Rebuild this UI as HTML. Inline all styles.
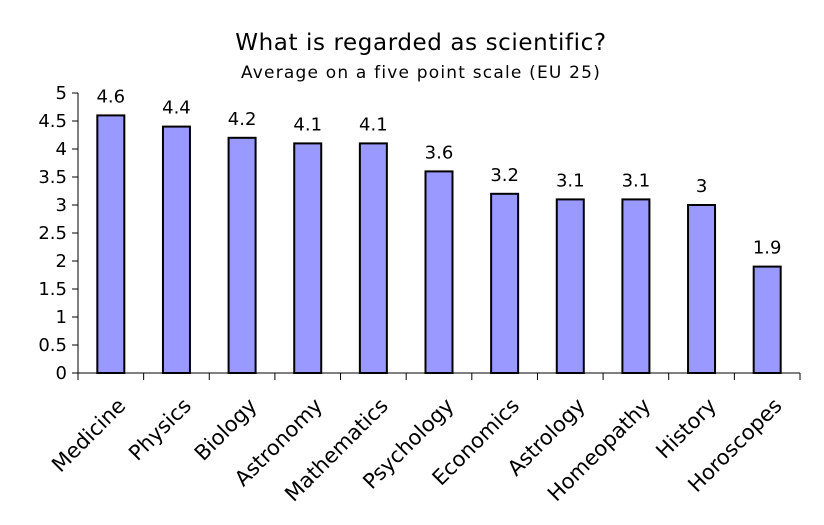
<!DOCTYPE html>
<html><head><meta charset="utf-8"><style>
body{margin:0;background:#fff}
svg text{font-family:"DejaVu Sans","Liberation Sans",sans-serif;fill:#000}
</style></head><body>
<svg id="c" width="824" height="520">
<text x="421" y="50" font-size="23" text-anchor="middle" letter-spacing="0.6">What is regarded as scientific?</text>
<text x="421" y="78" font-size="17" text-anchor="middle" letter-spacing="1.2">Average on a five point scale (EU 25)</text>
</svg>
<script>
const categories=["Medicine","Physics","Biology","Astronomy","Mathematics","Psychology","Economics","Astrology","Homeopathy","History","Horoscopes"];
const values=[4.6,4.4,4.2,4.1,4.1,3.6,3.2,3.1,3.1,3,1.9];
const yTicks=[0,0.5,1,1.5,2,2.5,3,3.5,4,4.5,5];
const svg=document.getElementById('c');
const NS='http://www.w3.org/2000/svg';
const x0=78,x1=800,y0=373,y5=93;
const bw=(x1-x0)/categories.length;
const y=v=>y0-(v/5)*(y0-y5);
const xc=i=>x0+bw*(i+0.5);
function mk(t,a){const e=document.createElementNS(NS,t);for(const k in a)e.setAttribute(k,a[k]);svg.appendChild(e);return e;}
yTicks.forEach(t=>{
 const l=mk('line',{x1:x0-6,x2:x0,y1:y(t),y2:y(t),stroke:'#000','stroke-width':1});
 
 
 const tx=mk('text',{x:x0-11,y:y(t)+6,'font-size':18,'text-anchor':'end'});
 tx.textContent=String(t);
 
 
});
categories.forEach((c,i)=>{
 const v=values[i];
 const r=mk('rect',{x:xc(i)-13.5,y:y(v),width:27,height:y0-y(v),fill:'#9999ff',stroke:'#000','stroke-width':2});
 
 
 const vt=mk('text',{x:xc(i),y:y(v)-13,'font-size':18,'text-anchor':'middle'});
 vt.textContent=String(v);
 
 
 const ax=xc(i)+16,ay=y0+34;
 const ct=mk('text',{x:ax,y:ay,'font-size':21,'text-anchor':'end',transform:`rotate(-45 ${ax} ${ay})`});
 ct.textContent=c;
 
 
});
for(let i=0;i<=categories.length;i++){
 const t=mk('line',{x1:x0+bw*i,x2:x0+bw*i,y1:y0,y2:y0+7,stroke:'#000','stroke-width':1});
 
 
}
const ya=mk('line',{x1:x0,x2:x0,y1:y5,y2:y0,stroke:'#000','stroke-width':1});


const xa=mk('line',{x1:x0,x2:x1,y1:y0,y2:y0,stroke:'#000','stroke-width':1});


</script>
</body></html>
